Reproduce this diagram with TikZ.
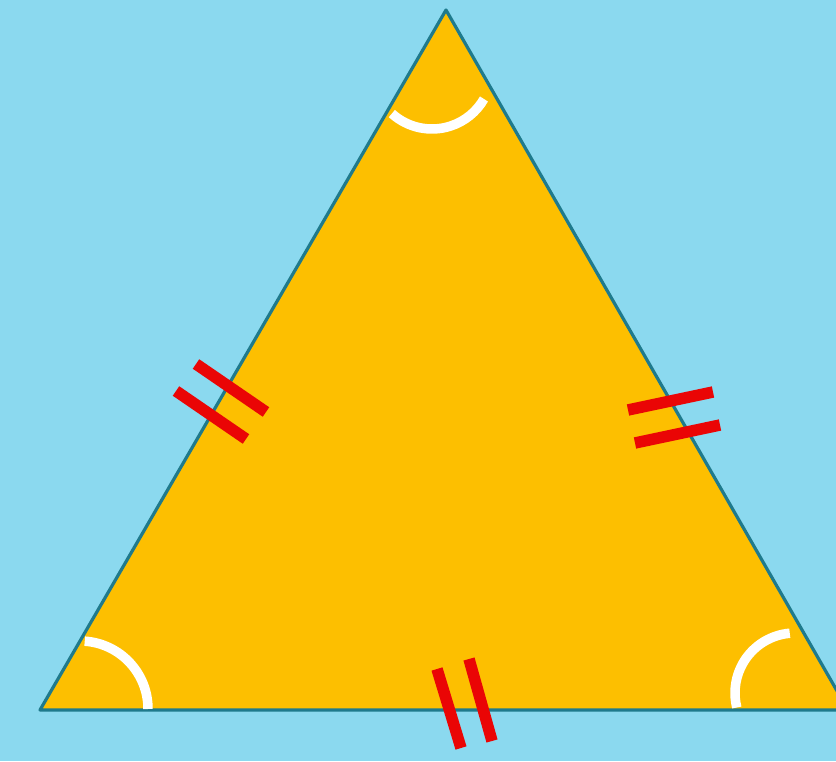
\documentclass[tikz,border=0pt]{standalone}
\definecolor{bgblue}{HTML}{8BD9EF}
\definecolor{triyellow}{HTML}{FDBF00}
\definecolor{edgeteal}{HTML}{1F7A8C}
\definecolor{tickred}{HTML}{EA0505}
\tikzset{
  tickmark/.style={draw=tickred, line width=11.5pt},
  anglearc/.style={draw=white, line width=9.5pt},
}
\begin{document}
\begin{tikzpicture}[x=1pt,y=1pt]
\useasboundingbox (0,0) rectangle (836,761);
\fill[bgblue] (0,0) rectangle (836,761);
\clip (0,0) rectangle (836,761);
\coordinate (A) at (446,751);
\coordinate (B) at (40,51);
\coordinate (C) at (848,51);
\filldraw[fill=triyellow, draw=edgeteal, line width=3.2pt, line join=round] (A) -- (B) -- (C) -- cycle;
% angle arcs
\draw[anglearc] (432,692) ++(228:60) arc[start angle=228, end angle=330, radius=60];
\draw[anglearc] (80,52) ++(0:68) arc[start angle=0, end angle=86, radius=68];
\draw[anglearc] (795,68) ++(95:60) arc[start angle=95, end angle=194, radius=60];
% tick marks
\draw[tickmark] (196,397) -- (266,349);
\draw[tickmark] (176,370) -- (246,322);
\draw[tickmark] (628,351) -- (713,369);
\draw[tickmark] (635,318) -- (720,336);
\draw[tickmark] (437,92) -- (461,13);
\draw[tickmark] (469,102) -- (492,20);
\end{tikzpicture}
\end{document}
